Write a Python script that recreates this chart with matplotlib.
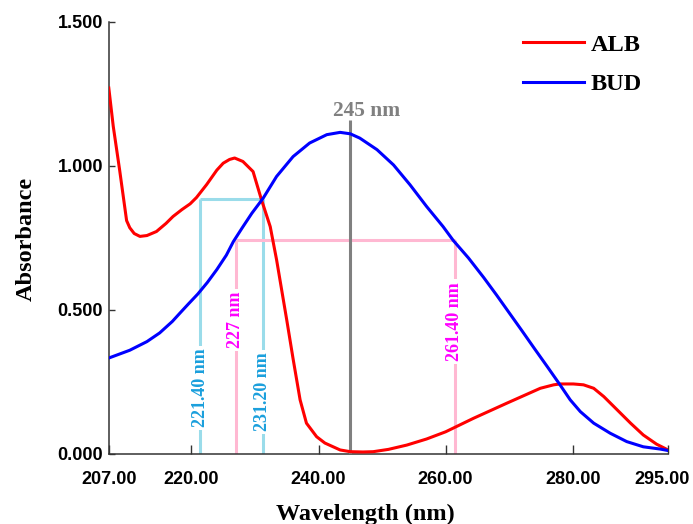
import matplotlib.pyplot as plt
from matplotlib.transforms import ScaledTranslation

# ALB spectrum
wl_alb = [207.0, 207.7, 208.7, 209.8, 210.3, 211.0, 211.9, 213.0, 214.5, 216.0, 217.1, 218.5,
          219.8, 220.8, 222.4, 224.0, 225.0, 226.0, 226.8, 228.1, 229.7, 231.0, 232.4, 233.4,
          235.0, 236.0, 237.1, 238.1, 239.7, 241.0, 242.3, 243.4, 245.0, 247.0, 248.6, 251.0,
          253.9, 257.0, 260.0, 264.4, 269.6, 274.9, 277.0, 278.0, 280.1, 281.7, 283.3, 284.9,
          287.0, 289.1, 291.1, 293.2, 295.0]
abs_alb = [1.270, 1.137, 0.986, 0.810, 0.785, 0.765, 0.755, 0.758, 0.772, 0.800, 0.824, 0.848,
           0.868, 0.890, 0.935, 0.985, 1.009, 1.022, 1.027, 1.015, 0.980, 0.884, 0.789, 0.674,
           0.465, 0.330, 0.188, 0.107, 0.060, 0.038, 0.025, 0.014, 0.008, 0.007, 0.008, 0.016,
           0.031, 0.052, 0.077, 0.124, 0.176, 0.228, 0.240, 0.243, 0.243, 0.240, 0.228, 0.199,
           0.153, 0.107, 0.066, 0.034, 0.014]

# BUD spectrum
wl_bud = [207.0, 210.3, 213.0, 215.0, 217.0, 218.2, 219.5, 221.0, 222.5, 224.0, 225.5, 226.6,
          228.0, 229.5, 231.3, 233.4, 236.0, 238.6, 241.3, 243.4, 245.0, 246.5, 249.2, 251.8,
          254.4, 257.0, 259.6, 261.2, 263.6, 266.0, 268.0, 270.0, 272.0, 274.0, 276.0, 278.0,
          279.6, 281.2, 283.3, 285.9, 288.5, 291.1, 293.8, 295.0]
abs_bud = [0.333, 0.360, 0.390, 0.420, 0.460, 0.489, 0.520, 0.555, 0.595, 0.640, 0.690, 0.737,
           0.785, 0.835, 0.888, 0.963, 1.032, 1.079, 1.108, 1.116, 1.111, 1.096, 1.056, 1.003,
           0.934, 0.859, 0.789, 0.741, 0.680, 0.612, 0.552, 0.490, 0.428, 0.365, 0.303, 0.240,
           0.188, 0.147, 0.107, 0.072, 0.043, 0.025, 0.017, 0.012]

peak_nm = 245.0
peak_top = 1.16
peak_label = '245 nm'
cyan_nm = [221.4, 231.2]
cyan_level = 0.885
cyan_labels = ['221.40 nm', '231.20 nm']
cyan_label_y = [0.23, 0.215]
pink_nm = [227.0, 261.4]
pink_level = 0.743
pink_labels = ['227 nm', '261.40 nm']
pink_label_y = [0.465, 0.46]

x_ticks = [207, 220, 240, 260, 280, 295]
y_ticks = [0.0, 0.5, 1.0, 1.5]

serif = 'Liberation Serif'
sans = 'Liberation Sans'

fig = plt.figure(figsize=(6.93, 5.24), dpi=100)
ax = fig.add_axes([0.157, 0.1336, 0.807, 0.825])

lw = 2.2
ax.plot(wl_alb, abs_alb, color='#ff0000', lw=lw, label='ALB', zorder=4)
ax.plot(wl_bud, abs_bud, color='#0000ff', lw=lw, label='BUD', zorder=4)

ax.vlines(peak_nm, 0, peak_top, color='#808080', lw=lw, zorder=3)
ax.text(peak_nm + 2.5, 1.174, peak_label, color='#808080', fontsize=15.5,
        fontfamily=serif, fontweight='bold', ha='center', va='baseline')

cyan_line = '#9adcea'
cyan_text = '#1a9fdc'
pink_line = '#ffb8d2'
pink_text = '#ff00ff'

ax.vlines(cyan_nm, 0, cyan_level, color=cyan_line, lw=lw, zorder=2)
ax.hlines(cyan_level, cyan_nm[0], cyan_nm[1], color=cyan_line, lw=lw, zorder=2)
ax.vlines(pink_nm, 0, pink_level, color=pink_line, lw=lw, zorder=2)
ax.hlines(pink_level, pink_nm[0], pink_nm[1], color=pink_line, lw=lw, zorder=2)

box = dict(facecolor='white', edgecolor='none', pad=2)
for x, lab, y in zip(cyan_nm, cyan_labels, cyan_label_y):
    ax.text(x, y, lab, rotation=90, color=cyan_text, fontsize=13, fontfamily=serif,
            fontweight='bold', ha='center', va='center', bbox=box, zorder=3)
for x, lab, y in zip(pink_nm, pink_labels, pink_label_y):
    ax.text(x, y, lab, rotation=90, color=pink_text, fontsize=13, fontfamily=serif,
            fontweight='bold', ha='center', va='center', bbox=box, zorder=3)

ax.set_xlim(207, 295)
ax.set_ylim(0, 1.5)
ax.set_xticks(x_ticks)
ax.set_xticklabels(['%.2f' % v for v in x_ticks])
ax.set_yticks(y_ticks)
ax.set_yticklabels(['%.3f' % v for v in y_ticks])

for s in ['top', 'right']:
    ax.spines[s].set_visible(False)
for s in ['left', 'bottom']:
    ax.spines[s].set_linewidth(1.1)
    ax.spines[s].set_color('#333333')

ax.tick_params(axis='x', direction='in', length=6.5, width=1, color='#333333', pad=12)
ax.tick_params(axis='y', direction='in', length=4.3, width=1, color='#333333', pad=4)
for t in ax.get_xticklabels() + ax.get_yticklabels():
    t.set_fontfamily(sans)
    t.set_fontweight('bold')
    t.set_fontsize(13)
# keep the last x label inside the canvas
last = ax.get_xticklabels()[-1]
last.set_transform(last.get_transform() + ScaledTranslation(-4 / 72, 0, fig.dpi_scale_trans))

ax.set_xlabel('Wavelength (nm)', fontfamily=serif, fontweight='bold', fontsize=17.5)
ax.set_ylabel('Absorbance', fontfamily=serif, fontweight='bold', fontsize=17.5)
ax.xaxis.set_label_coords(0.458, -0.115)
ax.yaxis.set_label_coords(-0.129, 0.498)

ax.legend(loc='upper right', bbox_to_anchor=(0.944, 0.959), bbox_transform=fig.transFigure,
          frameon=False, handlelength=2.5, handletextpad=0.3, labelspacing=0.72,
          borderpad=0, prop={'family': serif, 'weight': 'bold', 'size': 17.5})

fig.savefig('out.png', dpi=100)
